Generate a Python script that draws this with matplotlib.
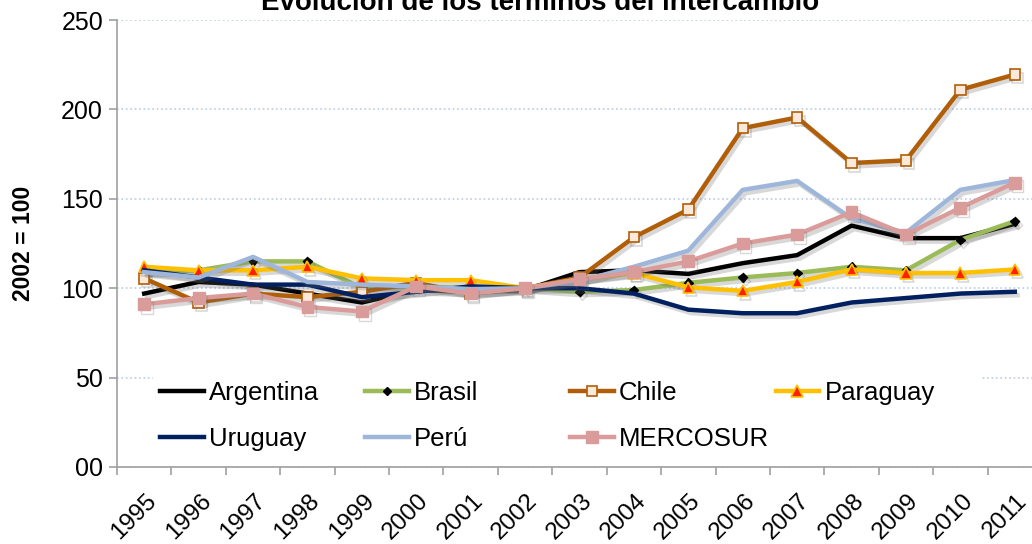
import matplotlib
matplotlib.use("Agg")
import matplotlib.pyplot as plt
import matplotlib.patheffects as pe
from matplotlib.patches import Rectangle
from matplotlib.transforms import ScaledTranslation

plt.rcParams['font.family'] = ['Liberation Sans', 'DejaVu Sans']

years = [str(y) for y in range(1995, 2012)]
y_ticks = [0, 50, 100, 150, 200, 250]
y_tick_labels = ["00", "50", "100", "150", "200", "250"]

argentina = [97, 103.5, 102, 97, 92, 99, 98, 99, 109, 110, 108, 114, 118.5, 135, 128, 128, 136]
brasil = [109, 110, 115, 115, 100, 101, 100, 100, 98, 99, 103, 106, 108.5, 112, 110, 127, 137.5]
chile = [105.5, 92, 97, 95, 98, 103, 97, 100, 106, 128.5, 144, 189.5, 195.5, 170, 171.5, 211, 219.5]
paraguay = [112, 110, 110, 112, 105.5, 104.5, 104.5, 100, 105, 108.5, 100.5, 98.5, 103.5, 110.5, 108.5, 108.5, 110.5]
uruguay = [110, 106, 102, 102, 95, 98, 101, 100, 100, 97, 88, 86, 86, 92, 94.5, 97, 98]
peru = [109, 106, 117.5, 103.5, 102, 101, 99.5, 100, 104, 112, 121, 155, 160, 139, 131, 155, 160.5]
mercosur = [91, 94.5, 97, 89.5, 87, 101, 97, 100, 105, 109, 115, 125, 130, 142.5, 130, 145, 159]

shadow = [pe.SimpleLineShadow(offset=(2, -2.5), shadow_color='#666666', alpha=0.25), pe.Normal()]

fig = plt.figure(figsize=(10.32, 5.44), dpi=100)
ax = fig.add_axes([117 / 1032, 1 - 467 / 544, 925 / 1032, 447 / 544])

x = list(range(len(years)))
series = [
    ("Argentina", argentina, dict(color='black')),
    ("Brasil", brasil, dict(color='#9BBB59', marker='D', ms=4.5, mfc='black', mec='black')),
    ("Chile", chile, dict(color='#B15E08', marker='s', ms=7.5, mfc='#FDE9D9', mec='#B15E08', mew=1.2)),
    ("Paraguay", paraguay, dict(color='#FFC000', marker='^', ms=8, mfc='#FF2000', mec='#FFC000', mew=1.2)),
    ("Uruguay", uruguay, dict(color='#002060')),
    ("Perú", peru, dict(color='#9DB6DA')),
    ("MERCOSUR", mercosur, dict(color='#DA9C9A', marker='s', ms=8.5, mfc='#DA9C9A', mec='#DA9C9A')),
]

handles = {}
for i, (name, vals, style) in enumerate(series):
    line, = ax.plot(x, vals, lw=3.2, label=name, zorder=3 + i, path_effects=shadow, **style)
    handles[name] = line

ax.set_xlim(-0.5, len(years) - 0.5)
ax.set_ylim(0, 250)
ax.set_yticks(y_ticks)
ax.set_yticklabels(y_tick_labels, fontsize=18)
ax.yaxis.grid(True, linestyle=':', color='#B9CCE8', lw=1.2)
ax.set_axisbelow(True)

# ticks between categories, labels at category centres
ax.set_xticks([i - 0.5 for i in range(len(years) + 1)])
ax.set_xticklabels([])
ax.set_xticks(x, minor=True)
ax.set_xticklabels(years, minor=True, fontsize=17.5, rotation=45, ha='right', va='center',
                   rotation_mode='anchor')
ax.tick_params(axis='x', which='minor', length=0, pad=22)
for lab in ax.get_xticklabels(minor=True):
    lab.set_transform(lab.get_transform() + ScaledTranslation(9 / 100, 0, fig.dpi_scale_trans))
ax.tick_params(axis='x', which='major', length=6, color='#A0A0A0', width=1.2)
ax.tick_params(axis='y', length=6, color='#A0A0A0', width=1.2, pad=4)

for s in ['top', 'right']:
    ax.spines[s].set_visible(False)
for s in ['left', 'bottom']:
    ax.spines[s].set_color('#A0A0A0')
    ax.spines[s].set_linewidth(1.2)

ax.set_ylabel("2002 = 100", fontsize=16.5, fontweight='bold', labelpad=19)

# white box behind the legend
ax.add_patch(Rectangle((0.039, 0.027), 0.894, 0.19, transform=ax.transAxes,
                       facecolor='white', edgecolor='none', zorder=1))

columns = [["Argentina", "Uruguay"], ["Brasil", "Perú"], ["Chile", "MERCOSUR"], ["Paraguay"]]
col_x = [0.0465, 0.268, 0.490, 0.712]
for k, (names, cx) in enumerate(zip(columns, col_x)):
    leg = ax.legend([handles[n] for n in names], names, loc='upper left',
                    bbox_to_anchor=(cx, 0.192), frameon=False, fontsize=18.5,
                    borderpad=0, borderaxespad=0, handlelength=1.7, handletextpad=0.2,
                    labelspacing=0.85)
    for h in leg.legend_handles:
        h.set_path_effects([])
    if k < len(columns) - 1:
        ax.add_artist(leg)

fig.text(540 / 1032, 1 - 10 / 544, "Evolución de los términos del intercambio",
         ha='center', va='baseline', fontsize=20, fontweight='bold')

fig.savefig("out.png", dpi=100)
